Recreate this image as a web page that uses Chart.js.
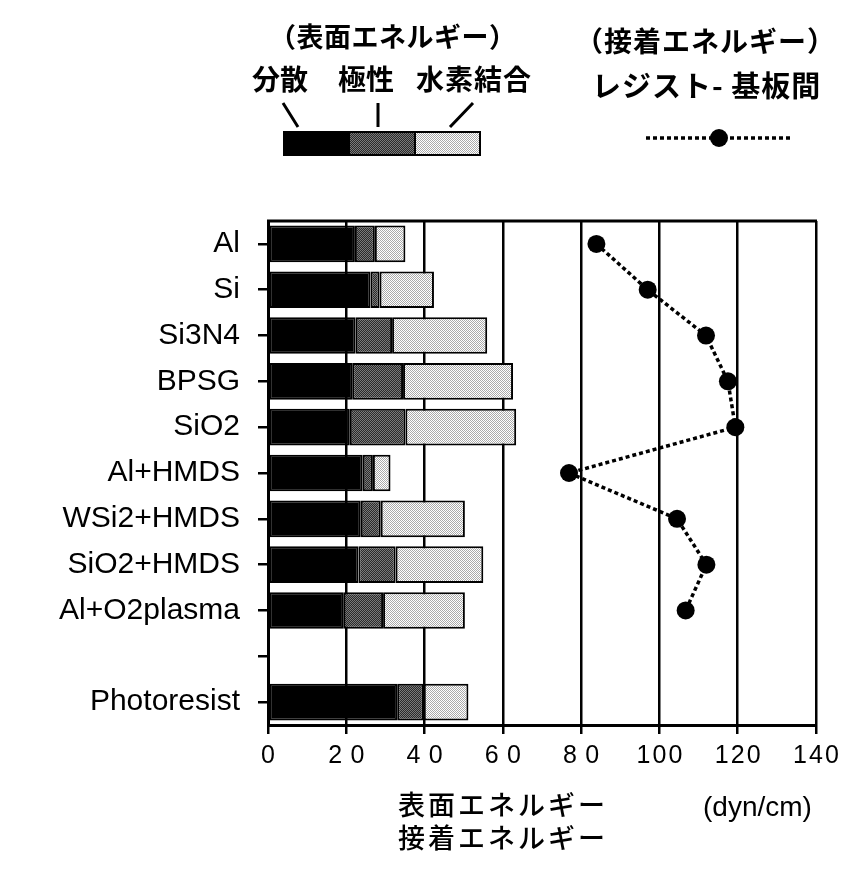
<!DOCTYPE html>
<html>
<head>
<meta charset="utf-8">
<script src="https://cdn.jsdelivr.net/npm/chart.js@4.4.1/dist/chart.umd.min.js"></script>
<style>
    body { margin: 0; background: #fff; }
    #wrap { position: relative; width: 855px; height: 878px; }
    #chart { position: absolute; left: 0; top: 0; }
    .txt { position: absolute; color: #000; white-space: nowrap; line-height: 1; }
    .jp { font-family: "Noto Sans CJK JP", sans-serif; font-weight: 500; }
    .en { font-family: "Liberation Sans", Arial, sans-serif; }
</style>
</head>
<body>
<div id="wrap">
    <canvas id="chart" width="855" height="878"></canvas>

    <div class="txt jp" style="left:269px; top:22px; font-size:27px; letter-spacing:0.5px; font-weight:700;">（表面エネルギー）</div>
    <div class="txt jp" style="left:252px; top:64px; font-size:28px; font-weight:700;">分散</div>
    <div class="txt jp" style="left:338px; top:64px; font-size:28px; font-weight:700;">極性</div>
    <div class="txt jp" style="left:416px; top:64px; font-size:28px; letter-spacing:1px; font-weight:700;">水素結合</div>

    <div class="txt jp" style="left:575px; top:26px; font-size:28px; letter-spacing:1px; font-weight:700;">（接着エネルギー）</div>
    <div class="txt jp" style="left:592px; top:70px; font-size:29px; letter-spacing:1px; font-weight:700;">レジスト- 基板間</div>

    <div class="txt jp" style="left:398px; top:790px; font-size:27px; letter-spacing:3px;">表面エネルギー</div>
    <div class="txt jp" style="left:398px; top:823px; font-size:27px; letter-spacing:3px;">接着エネルギー</div>
    <div class="txt en" style="left:703px; top:793px; font-size:28px;">(dyn/cm)</div>
</div>

<script>
// surface energy components and adhesion energy (dyn/cm)
const categories = ['Al', 'Si', 'Si3N4', 'BPSG', 'SiO2', 'Al+HMDS', 'WSi2+HMDS', 'SiO2+HMDS', 'Al+O2plasma', '', 'Photoresist'];
const dispersion = [22.2, 26.2, 22.4, 21.5, 20.9, 24.2, 23.7, 23.1, 19.2, null, 33.0];
const polar      = [5.1, 2.3, 9.3, 13.0, 14.2, 2.6, 5.1, 9.5, 10.2, null, 6.8];
const hydrogen   = [7.8, 13.9, 24.3, 28.1, 28.3, 4.5, 21.5, 22.4, 20.9, null, 11.4];
const adhesion   = [83.9, 97.0, 111.9, 117.5, 119.4, 76.9, 104.5, 112.0, 106.7, null, null];

const xTickValues = [0, 20, 40, 60, 80, 100, 120, 140];
const xTickLabels = ['0', '2\u20040', '4\u20040', '6\u20040', '8\u20040', '1\u200A0\u200A0', '1\u200A2\u200A0', '1\u200A4\u200A0'];

function makePattern(a, b) {
    const c = document.createElement('canvas');
    c.width = 2;
    c.height = 2;
    const g = c.getContext('2d');
    g.fillStyle = a;
    g.fillRect(0, 0, 2, 2);
    g.fillStyle = b;
    g.fillRect(0, 0, 1, 1);
    g.fillRect(1, 1, 1, 1);
    return g.createPattern(c, 'repeat');
}

const darkFill = makePattern('#2a2a2a', '#7a7a7a');
const lightFill = makePattern('#ffffff', '#aaaaaa');

// top frame line + the little legend graphics
const decorPlugin = {
    id: 'decor',
    afterDraw(chart) {
        const ctx = chart.ctx;
        const area = chart.chartArea;
        ctx.save();
        ctx.strokeStyle = '#000';
        ctx.lineWidth = 3;
        ctx.beginPath();
        ctx.moveTo(area.left - 1, area.top);
        ctx.lineTo(area.right + 1, area.top);
        ctx.stroke();

        // surface energy legend bar
        ctx.lineWidth = 3;
        ctx.beginPath();
        ctx.moveTo(283, 103); ctx.lineTo(298, 127);
        ctx.moveTo(378, 103); ctx.lineTo(378, 127);
        ctx.moveTo(473, 103); ctx.lineTo(450, 127);
        ctx.stroke();

        ctx.fillStyle = '#000';
        ctx.fillRect(283, 131, 67, 25);
        ctx.fillStyle = darkFill;
        ctx.fillRect(350, 131, 65, 25);
        ctx.fillStyle = lightFill;
        ctx.fillRect(415, 131, 66, 25);
        ctx.lineWidth = 2;
        ctx.strokeRect(284, 132, 196, 23);
        ctx.beginPath();
        ctx.moveTo(415, 131); ctx.lineTo(415, 156);
        ctx.stroke();

        // adhesion legend
        ctx.lineWidth = 3.5;
        ctx.setLineDash([4, 3]);
        ctx.beginPath();
        ctx.moveTo(646, 138); ctx.lineTo(793, 138);
        ctx.stroke();
        ctx.setLineDash([]);
        ctx.fillStyle = '#000';
        ctx.beginPath();
        ctx.arc(719, 138, 9, 0, Math.PI * 2);
        ctx.fill();
        ctx.restore();
    }
};

const barStyle = {
    type: 'bar',
    stack: 'surface',
    borderColor: '#000',
    borderWidth: 2,
    borderSkipped: false,
    barPercentage: 0.8,
    categoryPercentage: 1.0,
    order: 1
};

const ctx = document.getElementById('chart').getContext('2d');

const myChart = new Chart(ctx, {
    type: 'bar',
    data: {
        labels: categories,
        datasets: [
            {
                type: 'line',
                label: 'adhesion',
                data: adhesion,
                indexAxis: 'y',
                stack: 'adhesion',
                borderColor: '#000',
                borderWidth: 3.5,
                borderDash: [4, 3],
                pointRadius: 9,
                pointBackgroundColor: '#000',
                pointBorderWidth: 0,
                spanGaps: false,
                fill: false,
                order: 0
            },
            Object.assign({ label: 'dispersion', data: dispersion, backgroundColor: '#000' }, barStyle),
            Object.assign({ label: 'polar', data: polar, backgroundColor: darkFill }, barStyle),
            Object.assign({ label: 'hydrogen', data: hydrogen, backgroundColor: lightFill }, barStyle)
        ]
    },
    options: {
        indexAxis: 'y',
        responsive: false,
        animation: false,
        layout: {
            padding: { left: 0, top: 221, right: 39, bottom: 0 }
        },
        plugins: {
            legend: { display: false },
            tooltip: { enabled: false }
        },
        scales: {
            x: {
                type: 'linear',
                stacked: true,
                min: 0,
                max: 140,
                afterFit: (scale) => { scale.height = 153; },
                afterBuildTicks: (scale) => {
                    scale.ticks = xTickValues.map(v => ({ value: v }));
                },
                grid: {
                    color: '#000',
                    lineWidth: 2.5,
                    tickLength: 9,
                    tickColor: '#000'
                },
                border: { color: '#000', width: 3 },
                ticks: {
                    color: '#000',
                    padding: 7,
                    maxRotation: 0,
                    autoSkip: false,
                    font: { family: 'Liberation Sans', size: 25 },
                    callback: (value) => xTickLabels[xTickValues.indexOf(value)]
                }
            },
            y: {
                type: 'category',
                stacked: true,
                afterFit: (scale) => { scale.width = 268; },
                grid: {
                    drawOnChartArea: false,
                    offset: false,
                    color: '#000',
                    lineWidth: 2.5,
                    tickLength: 10
                },
                border: { color: '#000', width: 3 },
                ticks: {
                    color: '#000',
                    padding: 18,
                    autoSkip: false,
                    font: { family: 'Liberation Sans', size: 30 }
                }
            }
        }
    },
    plugins: [decorPlugin]
});
</script>
</body>
</html>
